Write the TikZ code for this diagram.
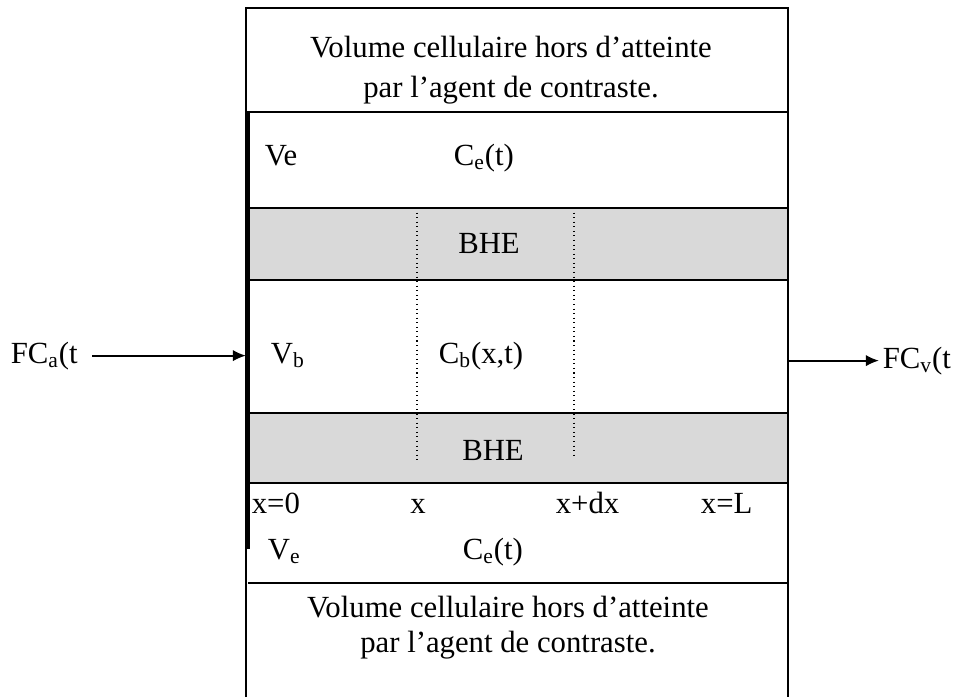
\documentclass[tikz,border=0pt]{standalone}
\usepackage{fontspec}
\setmainfont{Liberation Serif}
\usetikzlibrary{arrows.meta}
\definecolor{bhegray}{RGB}{217,217,217}

\begin{document}
\begin{tikzpicture}[x=0.02cm, y=-0.02cm,
  lbl/.style={font=\fontsize{17.5}{20}\selectfont, inner sep=2pt},
  flux/.style={-{Latex[length=7.5pt,width=6.5pt]}, line width=1.1pt}]
\useasboundingbox (0,0) rectangle (956,697);
\fill[bhegray] (248,208) rectangle (788,280);
\fill[bhegray] (248,413) rectangle (788,483);
\draw[line width=1.1pt] (246,697) -- (246,8) -- (788,8) -- (788,697);
\draw[line width=1.1pt] (246,112) -- (788,112);
\foreach \y in {208,280,413,483,583}
  \draw[line width=0.85pt] (248,\y) -- (788,\y);
\draw[line width=2.3pt] (248,112) -- (248,549);
\draw[dotted, line width=0.6pt] (417,208) -- (417,462);
\draw[dotted, line width=0.6pt] (574,208) -- (574,457);
% texts
\node[lbl, align=center] (hautvol) at (511,70) {Volume cellulaire hors d’atteinte\\[2.8pt]par l’agent de contraste.};
\node[lbl, anchor=base west] (ve) at (261,165) {Ve};
\node[lbl, anchor=base west] (cehaut) at (450,165) {C\textsubscript{e}(t)};
\node[lbl, anchor=base] (bhehaut) at (489,253) {BHE};
\node[lbl, anchor=base west] (vb) at (267,363) {V\textsubscript{b}};
\node[lbl, anchor=base west] (cb) at (435,363) {C\textsubscript{b}(x,t)};
\node[lbl, anchor=base] (bhebas) at (493,460) {BHE};
\node[lbl, anchor=base west] (x0) at (248,513) {x=0};
\node[lbl, anchor=base] (xx) at (418,513) {x};
\node[lbl, anchor=base west] (xdx) at (552,513) {x+dx};
\node[lbl, anchor=base west] (xl) at (697,513) {x=L};
\node[lbl, anchor=base west] (vebas) at (264,559) {V\textsubscript{e}};
\node[lbl, anchor=base west] (cebas) at (459,559) {C\textsubscript{e}(t)};
\node[lbl, align=center] (basvol) at (508,628) {Volume cellulaire hors d’atteinte\\par l’agent de contraste.};
% flux
\node[lbl, anchor=base west] (fca) at (7,363) {FC\textsubscript{a}(t};
\node[lbl, anchor=base west] (fcv) at (879,368) {FC\textsubscript{v}(t};
\coordinate (entree) at (246,356);
\coordinate (sortie) at (789,362);
\draw[flux, shorten <=6pt] (fca) -- (fca -| entree);
\draw[flux] (fcv -| sortie) -- (fcv);
\end{tikzpicture}
\end{document}
